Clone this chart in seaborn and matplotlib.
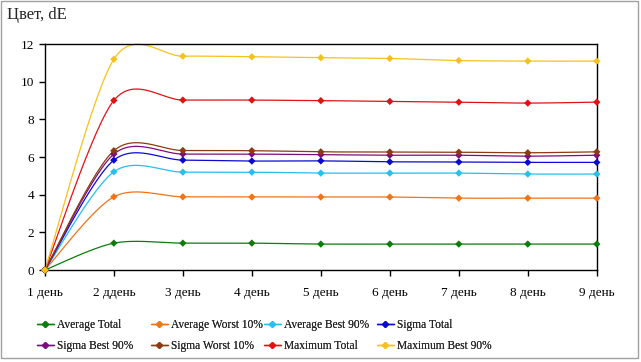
import numpy as np
import pandas as pd
import seaborn as sns
import matplotlib.pyplot as plt
from matplotlib.lines import Line2D
from matplotlib.patches import Rectangle

days = ["1 день", "2 ддень", "3 день", "4 день", "5 день", "6 день", "7 день", "8 день", "9 день"]

average_total = [0, 1.43, 1.43, 1.43, 1.38, 1.38, 1.38, 1.38, 1.38]
average_worst_10 = [0, 3.89, 3.89, 3.88, 3.88, 3.88, 3.82, 3.82, 3.82]
average_best_90 = [0, 5.22, 5.20, 5.20, 5.15, 5.15, 5.15, 5.10, 5.10]
sigma_total = [0, 5.84, 5.84, 5.79, 5.80, 5.75, 5.74, 5.72, 5.72]
sigma_best_90 = [0, 6.16, 6.16, 6.16, 6.13, 6.10, 6.10, 6.05, 6.10]
sigma_worst_10 = [0, 6.34, 6.35, 6.34, 6.28, 6.27, 6.26, 6.23, 6.28]
maximum_total = [0, 9.01, 9.03, 9.03, 9.00, 8.96, 8.92, 8.87, 8.92]
maximum_best_90 = [0, 11.20, 11.36, 11.33, 11.28, 11.24, 11.13, 11.10, 11.10]

series = {
    "Average Total": (average_total, "#0b7d0b"),
    "Average Worst 10%": (average_worst_10, "#f07418"),
    "Average Best 90%": (average_best_90, "#25bff0"),
    "Sigma Total": (sigma_total, "#0a0ad2"),
    "Sigma Best 90%": (sigma_best_90, "#7e0c7e"),
    "Sigma Worst 10%": (sigma_worst_10, "#8b3a12"),
    "Maximum Total": (maximum_total, "#e01212"),
    "Maximum Best 90%": (maximum_best_90, "#f5c21b"),
}


def smooth(x, y, k=0.15, n=30):
    # excel-like smoothed line: bezier segments with catmull-rom control points
    pts = np.column_stack([x, y]).astype(float)
    out = []
    for i in range(len(pts) - 1):
        p0 = pts[i - 1] if i > 0 else pts[i]
        p1, p2 = pts[i], pts[i + 1]
        p3 = pts[i + 2] if i + 2 < len(pts) else pts[i + 1]
        c1 = p1 + (p2 - p0) * k
        c2 = p2 - (p3 - p1) * k
        t = np.linspace(0, 1, n)[:, None]
        seg = (1 - t) ** 3 * p1 + 3 * (1 - t) ** 2 * t * c1 + 3 * (1 - t) * t ** 2 * c2 + t ** 3 * p2
        out.append(seg if i == 0 else seg[1:])
    out = np.vstack(out)
    return out[:, 0], out[:, 1]


rows = []
for name, (vals, col) in series.items():
    for i, v in enumerate(vals):
        rows.append({"day": i, "value": v, "series": name})
df = pd.DataFrame(rows)

sns.set_style("white")
plt.rcParams["font.family"] = ["Liberation Serif", "DejaVu Serif"]
plt.rcParams["font.size"] = 9.5

fig = plt.figure(figsize=(6.41, 3.62), dpi=100)
ax = fig.add_axes([0.070, 0.254, 0.861, 0.624])

palette = {name: col for name, (vals, col) in series.items()}
x = np.arange(len(days))
for name, (vals, col) in series.items():
    sx, sy = smooth(x, vals)
    ax.plot(sx, sy, color=col, lw=0.9, zorder=2, clip_on=False)
sns.scatterplot(data=df, x="day", y="value", hue="series", palette=palette,
                marker="D", s=14, edgecolor="none", legend=False, ax=ax, zorder=3, clip_on=False)

ax.set_xlim(0, len(days) - 1)
ax.set_ylim(0, 12)
ax.set_yticks(range(0, 13, 2))
ax.set_xticks(x)
ax.set_xticklabels(days)
ax.set_xlabel("")
ax.set_ylabel("")
for s in ax.spines.values():
    s.set_color("black")
    s.set_linewidth(1.0)
ax.tick_params(axis="both", direction="out", length=4, width=1, color="black",
               labelsize=9.5, labelcolor="black", bottom=True, left=True)
ax.tick_params(axis="x", pad=8)

fig.text(0.011, 0.958, "Цвет, dE", fontsize=12, ha="left", va="center")

# legend: 4 fixed-width columns, filled row by row
names = list(series.keys())
col_x = [41, 155, 268, 381]
for c in range(4):
    sub = [names[c], names[c + 4]]
    handles = [Line2D([0], [0], color=series[n][1], lw=1, marker="D", markersize=3) for n in sub]
    leg = fig.legend(handles, sub, loc="upper left",
                     bbox_to_anchor=(col_x[c] / 641 - 0.012, 1 - 316 / 362),
                     frameon=False, fontsize=8.3, handlelength=1.5,
                     handletextpad=0.25, labelspacing=0.75, borderaxespad=0,
                     borderpad=0.3)
    fig.add_artist(leg)

fig.patches.append(Rectangle((0.002, 0.011), 0.993, 0.985, transform=fig.transFigure,
                             fill=False, edgecolor="#a0a0a0", lw=1))

plt.savefig("out.png", dpi=100)
